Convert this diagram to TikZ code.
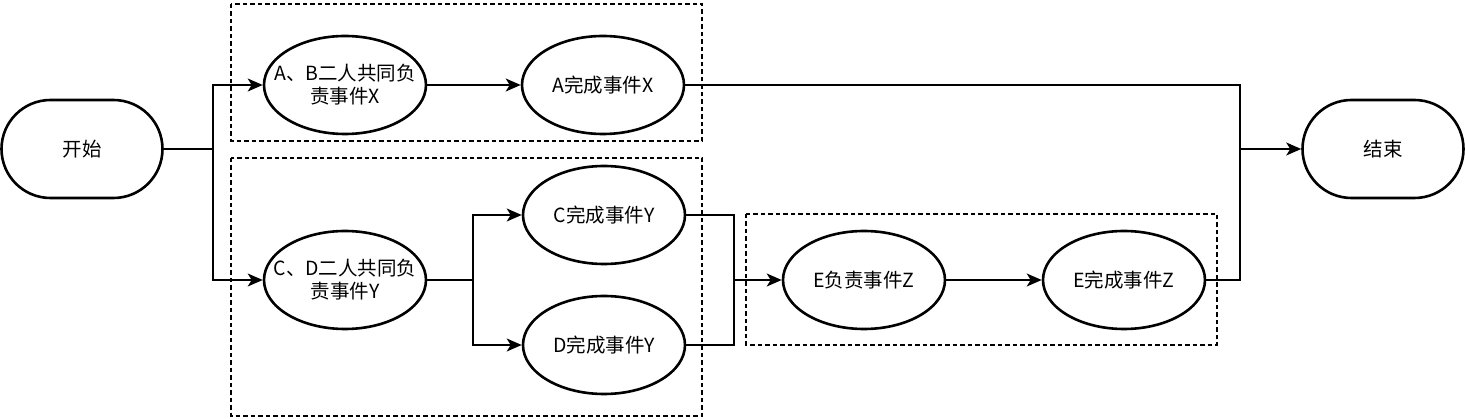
\documentclass[tikz,border=0pt]{standalone}
\usepackage{fontspec}
\newfontfamily\cjk{Noto Sans CJK SC}
\usetikzlibrary{shapes.geometric,arrows.meta}
\tikzset{
  event/.style={ellipse,draw,line width=2.6pt,minimum width=162pt,minimum height=98pt,
    inner xsep=-20pt,inner ysep=-9pt,align=center,font=\cjk\fontsize{19.5}{23}\selectfont},
  terminal/.style={rectangle,draw,line width=2.6pt,rounded corners=49pt,minimum width=161pt,
    minimum height=98pt,inner sep=0pt,font=\cjk\fontsize{19.5}{23}\selectfont},
  link/.style={line width=1.4pt},
  flow/.style={link,-{Stealth[length=15pt,width=13pt,inset=4pt]}},
  group/.style={draw,line width=1.3pt,dash pattern=on 4.5pt off 3pt}
}
\begin{document}
\begin{tikzpicture}[x=1pt,y=-1pt]
  \useasboundingbox (0,0) rectangle (1465,419);
  % dashed groups
  \draw[group] (231,4) rectangle (702,141);
  \draw[group] (231,158) rectangle (702,416);
  \draw[group] (746,214) rectangle (1217,345);
  % nodes
  \node[terminal] (start) at (82,149) {开始};
  \node[event] (ab) at (345,85) {A、B二人共同负\\责事件X};
  \node[event] (ax) at (603,85) {A完成事件X};
  \node[event] (cd) at (345,280) {C、D二人共同负\\责事件Y};
  \node[event] (cy) at (604,215) {C完成事件Y};
  \node[event] (dy) at (604,345) {D完成事件Y};
  \node[event] (ez) at (864,280) {E负责事件Z};
  \node[event] (ed) at (1124,280) {E完成事件Z};
  \node[terminal] (end) at (1383,149) {结束};
  % split after start
  \coordinate (s1) at (213,149);
  \draw[link] (start) -- (s1);
  \draw[flow] (s1) |- (ab);
  \draw[flow] (s1) |- (cd);
  \draw[flow] (ab) -- (ax);
  % split after C, D
  \coordinate (s2) at (473,280);
  \draw[link] (cd) -- (s2);
  \draw[flow] (s2) |- (cy);
  \draw[flow] (s2) |- (dy);
  % join before E
  \coordinate (m1) at (734,280);
  \draw[link] (cy) -| (m1);
  \draw[link] (dy) -| (m1);
  \draw[flow] (m1) -- (ez);
  \draw[flow] (ez) -- (ed);
  % join before end
  \coordinate (m2) at (1240,149);
  \draw[link] (ax) -| (m2);
  \draw[link] (ed) -| (m2);
  \draw[flow] (m2) -- (end);
\end{tikzpicture}
\end{document}
